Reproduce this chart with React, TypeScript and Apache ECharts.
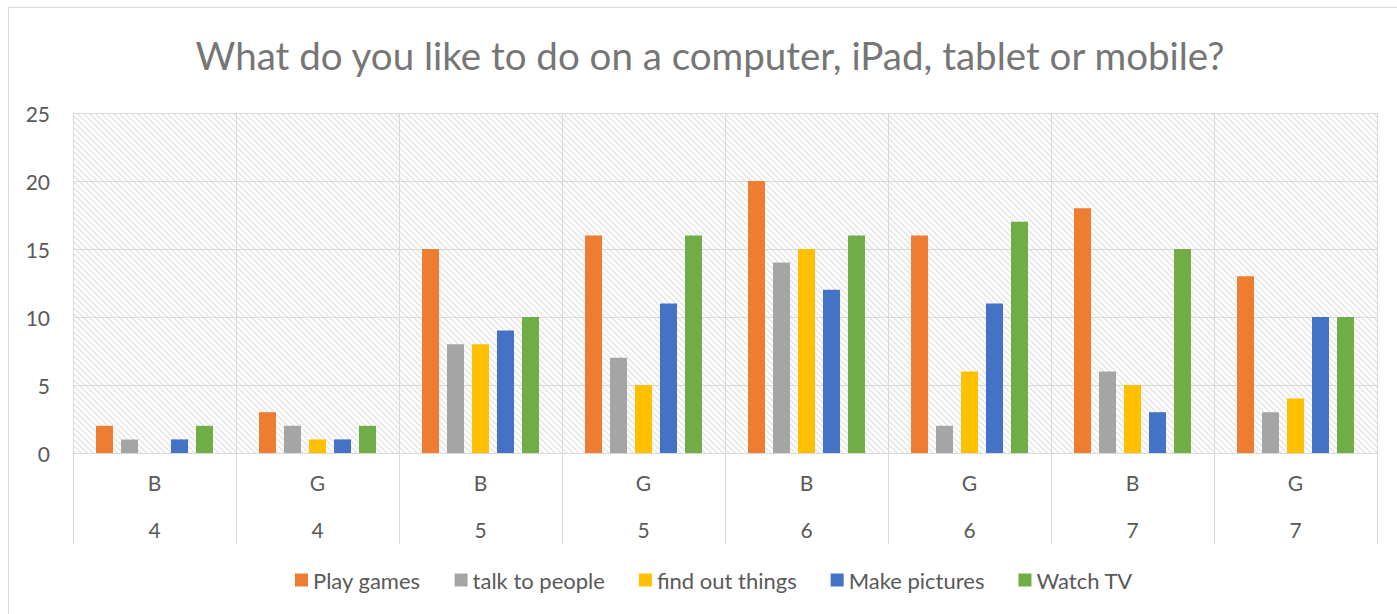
import React, { useEffect, useRef } from "react";
import * as echarts from "echarts";

const genders = ["B", "G", "B", "G", "B", "G", "B", "G"];
const ages = ["4", "4", "5", "5", "6", "6", "7", "7"];
const seriesNames = ["Play games", "talk to people", "find out things", "Make pictures", "Watch TV"];
const playGames = [2, 3, 15, 16, 20, 16, 18, 13];
const talkToPeople = [1, 2, 8, 7, 14, 2, 6, 3];
const findOutThings = [0, 1, 8, 5, 15, 6, 5, 4];
const makePictures = [1, 1, 9, 11, 12, 11, 3, 10];
const watchTV = [2, 2, 10, 16, 16, 17, 15, 10];
const yTicks = [0, 5, 10, 15, 20, 25];
const colors = ["#ED7D31", "#A5A5A5", "#FFC000", "#4472C4", "#70AD47"];
const titleText = "What do you like to do on a computer, iPad, tablet or mobile?";

const FONT = "Lato, 'Open Sans', sans-serif";

function makeHatch(): HTMLCanvasElement {
  const c = document.createElement("canvas");
  c.width = 6;
  c.height = 6;
  const ctx = c.getContext("2d")!;
  ctx.fillStyle = "#ffffff";
  ctx.fillRect(0, 0, 6, 6);
  ctx.strokeStyle = "#e2e2e2";
  ctx.lineWidth = 1.3;
  ctx.beginPath();
  ctx.moveTo(0, 0);
  ctx.lineTo(6, 6);
  ctx.moveTo(-1, 5);
  ctx.lineTo(1, 7);
  ctx.moveTo(5, -1);
  ctx.lineTo(7, 1);
  ctx.stroke();
  return c;
}

export default function App() {
  const ref = useRef<HTMLDivElement>(null);
  useEffect(() => {
    document.body.style.overflow = "hidden";
    const chart = echarts.init(ref.current!, null, { renderer: "svg" });
    const values = [playGames, talkToPeople, findOutThings, makePictures, watchTV];
    const hatch = makeHatch();
    chart.setOption({
      animation: false,
      backgroundColor: "#ffffff",
      graphic: [
        {
          type: "rect",
          shape: { x: 8.5, y: 7.5, width: 1500, height: 700 },
          style: { fill: "none", stroke: "#d9d9d9", lineWidth: 1 },
          silent: true,
        },
        {
          type: "text",
          x: 710,
          y: 55,
          style: {
            text: titleText,
            fill: "#767676",
            font: `38.5px ${FONT}`,
            textAlign: "center",
            textVerticalAlign: "middle",
          },
        },
      ],
      grid: {
        left: 73,
        top: 113,
        width: 1304,
        height: 340,
        show: true,
        borderWidth: 0,
        backgroundColor: { image: hatch, repeat: "repeat", imageWidth: 6, imageHeight: 6 },
      },
      legend: {
        left: 290,
        top: 564,
        icon: "rect",
        itemWidth: 13,
        itemHeight: 13,
        itemGap: 34,
        textStyle: { color: "#595959", fontSize: 22, fontFamily: FONT },
        data: seriesNames,
      },
      xAxis: {
        type: "category",
        data: genders.map((g, i) => g + "\n" + ages[i]),
        axisLine: { show: true, lineStyle: { color: "#d9d9d9", width: 1 } },
        axisTick: { show: true, length: 91, interval: 0, lineStyle: { color: "#d9d9d9", width: 1 } },
        splitLine: { show: true, interval: 0, lineStyle: { color: "#d9d9d9", width: 1 } },
        axisLabel: {
          interval: 0,
          margin: 6,
          lineHeight: 47,
          color: "#595959",
          fontSize: 21,
          fontFamily: FONT,
        },
      },
      yAxis: {
        type: "value",
        min: 0,
        max: 25,
        interval: 5,
        axisLine: { show: false },
        axisTick: { show: false },
        splitLine: { show: true, lineStyle: { color: "#d9d9d9", width: 1 } },
        axisLabel: {
          margin: 23,
          color: "#595959",
          fontSize: 21,
          fontFamily: FONT,
          formatter: (v: number) => (yTicks.includes(v) ? String(v) : ""),
        },
      },
      series: seriesNames.map((name, i) => ({
        name,
        type: "bar",
        data: values[i],
        barWidth: 17,
        barGap: "47%",
        itemStyle: { color: colors[i] },
      })),
    });
    return () => chart.dispose();
  }, []);
  return (
    <div
      ref={ref}
      style={{ position: "fixed", left: 0, top: 0, width: 1397, height: 614 }}
    />
  );
}
